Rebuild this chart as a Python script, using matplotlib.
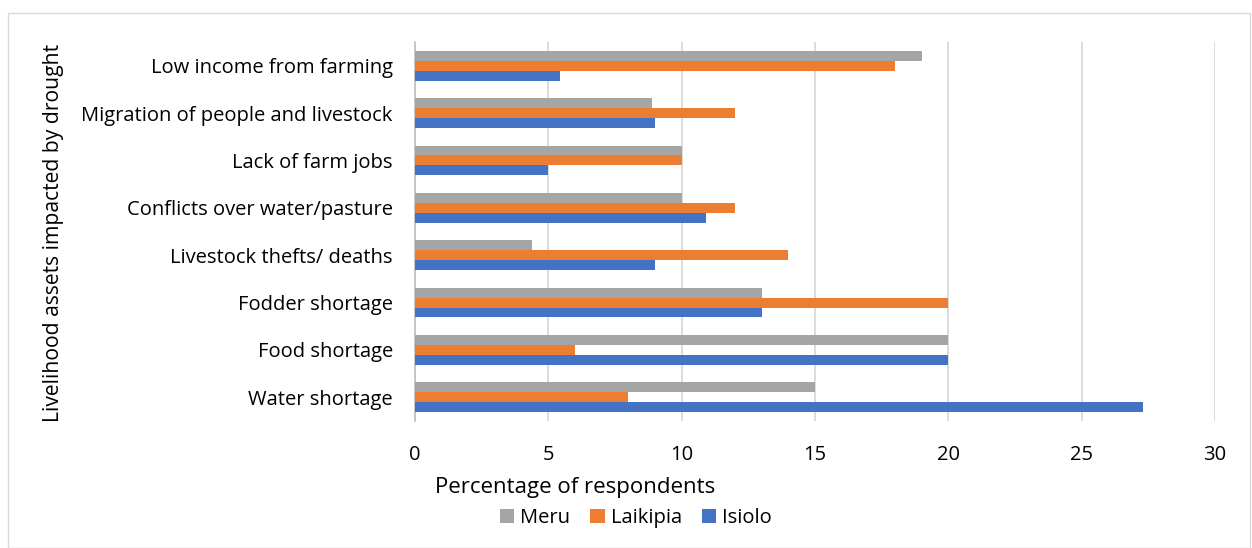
import matplotlib
matplotlib.use("Agg")
import matplotlib.pyplot as plt
import numpy as np
from matplotlib.patches import Rectangle

categories = ["Water shortage", "Food shortage", "Fodder shortage",
              "Livestock thefts/ deaths", "Conflicts over water/pasture",
              "Lack of farm jobs", "Migration of people and livestock",
              "Low income from farming"]
meru = [15, 20, 13, 4.4, 10, 10, 8.9, 19]
laikipia = [8, 6, 20, 14, 12, 10, 12, 18]
isiolo = [27.3, 20, 13, 9, 10.9, 5, 9, 5.45]
series_names = ["Meru", "Laikipia", "Isiolo"]
colors = ["#A5A5A5", "#ED7D31", "#4472C4"]
xticks = [0, 5, 10, 15, 20, 25, 30]

plt.rcParams['font.family'] = ['Open Sans', 'DejaVu Sans']
W, H = 1252, 548
fig = plt.figure(figsize=(W/100, H/100), dpi=100)
ax = fig.add_axes([415/W, 1-421/H, (1215-415)/W, (421-42)/H])

y = np.arange(len(categories))
h = 0.21
for i, (vals, name, c) in enumerate(zip([meru, laikipia, isiolo], series_names, colors)):
    ax.barh(y + (1 - i) * h, vals, height=h, color=c, label=name, zorder=3)

ax.set_xlim(0, 30)
ax.set_ylim(-0.5, len(categories) - 0.5)
ax.set_xticks(xticks)
ax.set_yticks(y)
ax.set_yticklabels(categories, fontsize=14.5, color="#000000")
ax.tick_params(axis='x', labelsize=14.5, length=0, pad=17)
ax.tick_params(axis='y', length=0, pad=16)
ax.grid(axis='x', color="#D9D9D9", linewidth=1.3, zorder=0)
for s in ["top", "right", "bottom"]:
    ax.spines[s].set_visible(False)
ax.spines["left"].set_color("#BFBFBF")
ax.spines["left"].set_linewidth(1.2)

fig.text(575/W, 1-487/H, "Percentage of respondents", fontsize=16, ha='center', va='center')
fig.text(54/W, 1-233/H, "Livelihood assets impacted by drought", fontsize=15.2,
         rotation=90, ha='center', va='center')

handles, labels = ax.get_legend_handles_labels()
leg = fig.legend(handles, labels, loc='center', bbox_to_anchor=(636/W, 1-518/H),
                 ncol=3, frameon=False, fontsize=14.5, handlelength=0.7, handleheight=0.7,
                 handletextpad=0.3, columnspacing=1.0)

fig.patches.append(Rectangle((8/W, 0), (W-10)/W, 1-13/H, transform=fig.transFigure,
                             fill=False, edgecolor="#D9D9D9", linewidth=1))
fig.savefig("out.png", dpi=100, facecolor="white")
